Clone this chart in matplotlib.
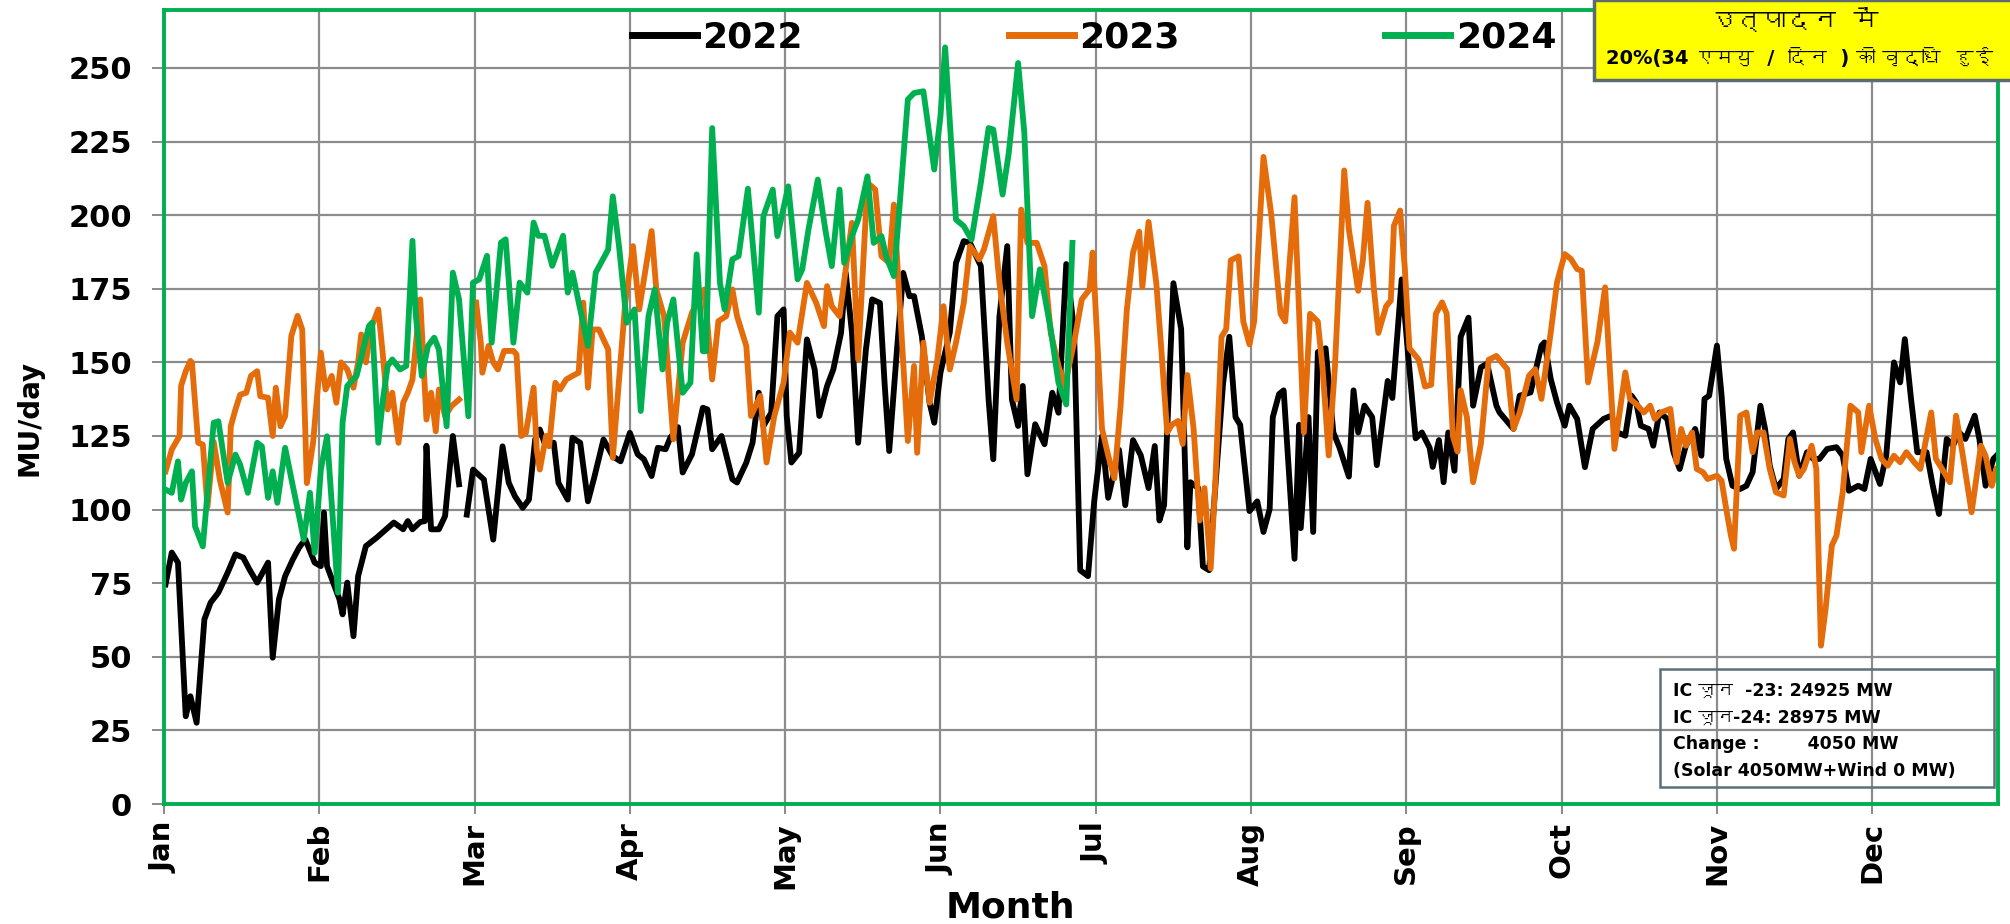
import numpy as np
import matplotlib
matplotlib.use("Agg")
import matplotlib.pyplot as plt
from matplotlib import font_manager, ft2font
from matplotlib.patches import Rectangle

# time in months since 1 Jan (0 = Jan, 1 = Feb, ...), values in MU/day
t_2022 = [0.01, 0.05, 0.09, 0.14, 0.17, 0.21, 0.26, 0.30, 0.35, 0.41, 0.46, 0.51, 0.55, 0.60,
          0.67, 0.70, 0.74, 0.78, 0.83, 0.87, 0.91, 0.97, 1.01, 1.03, 1.05, 1.13, 1.15, 1.18,
          1.22, 1.25, 1.30, 1.37, 1.43, 1.48, 1.54, 1.57, 1.60, 1.65, 1.68, 1.69, 1.72, 1.77,
          1.81, 1.86, 1.90, 1.92, 1.95, 1.99, 2.06, 2.12, 2.18, 2.22, 2.26, 2.31, 2.35, 2.39,
          2.42, 2.45, 2.51, 2.54, 2.60, 2.63, 2.68, 2.73, 2.77, 2.83, 2.89, 2.94, 3.00, 3.05,
          3.09, 3.14, 3.18, 3.23, 3.26, 3.31, 3.34, 3.40, 3.47, 3.50, 3.53, 3.59, 3.66, 3.69,
          3.75, 3.79, 3.83, 3.86, 3.91, 3.95, 3.99, 4.01, 4.04, 4.09, 4.14, 4.19, 4.22, 4.27,
          4.31, 4.36, 4.39, 4.43, 4.47, 4.52, 4.56, 4.61, 4.64, 4.67, 4.72, 4.76, 4.80, 4.83,
          4.88, 4.93, 4.96, 5.00, 5.06, 5.10, 5.15, 5.19, 5.26, 5.31, 5.34, 5.38, 5.43, 5.46,
          5.50, 5.53, 5.56, 5.61, 5.67, 5.72, 5.76, 5.81, 5.86, 5.90, 5.95, 5.99, 6.04, 6.08,
          6.15, 6.19, 6.24, 6.29, 6.34, 6.38, 6.41, 6.44, 6.50, 6.55, 6.59, 6.61, 6.66, 6.69,
          6.73, 6.82, 6.86, 6.90, 6.93, 6.99, 7.04, 7.08, 7.12, 7.14, 7.18, 7.21, 7.28, 7.31,
          7.32, 7.37, 7.40, 7.43, 7.48, 7.53, 7.57, 7.63, 7.66, 7.69, 7.73, 7.78, 7.81, 7.88,
          7.91, 7.97, 8.01, 8.06, 8.10, 8.15, 8.17, 8.21, 8.24, 8.27, 8.31, 8.35, 8.40, 8.43,
          8.48, 8.52, 8.58, 8.60, 8.69, 8.73, 8.80, 8.84, 8.87, 8.89, 8.93, 8.97, 9.02, 9.05,
          9.10, 9.15, 9.20, 9.27, 9.32, 9.36, 9.41, 9.45, 9.48, 9.51, 9.56, 9.59, 9.63, 9.68,
          9.72, 9.76, 9.80, 9.86, 9.90, 9.92, 9.95, 10.00, 10.03, 10.06, 10.10, 10.15, 10.19,
          10.23, 10.28, 10.31, 10.34, 10.38, 10.43, 10.46, 10.49, 10.53, 10.58, 10.62, 10.66,
          10.71, 10.77, 10.81, 10.85, 10.91, 10.95, 10.99, 11.05, 11.09, 11.14, 11.18, 11.21,
          11.25, 11.29, 11.35, 11.39, 11.43, 11.48, 11.52, 11.56, 11.60, 11.66, 11.69, 11.73,
          11.78, 11.80]
mu_2022 = [74.6, 85.4, 82, 29.8, 36.6, 27.6, 62.7, 68.4, 71.8, 78.6, 84.8, 83.7, 79.7, 75.2,
           82, 49.7, 69.5, 77.4, 83.1, 87.1, 89.9, 82, 80.8, 99, 80.8, 69.5, 64.4, 75.2,
           57, 77.4, 87.6, 90.5, 93.3, 95.6, 93.3, 96.1, 93.3, 95.8, 96.1, 121.7, 93.3, 93.3,
           97.8, 125, 108.6, np.nan, 98.3, 113.6, 110.2, 89.8, 121.5, 109.1, 104.5, 100.6, 103.4, 123.8,
           127.2, 122.7, 122.7, 109.1, 103.4, 124.4, 122.7, 102.8, 110.8, 123.8, 118.1, 116.4, 126.1, 118.8,
           117.1, 111.4, 121.0, 120.5, 124.4, 128, 112.6, 118.8, 134.6, 134.0, 120.5, 125.0, 110.3, 109.2,
           116.0, 122.7, 139.7, 128.4, 132.9, 165.7, 168.0, 131.8, 116.0, 119.3, 157.8, 147.6, 131.8, 142.0,
           147.6, 160.1, 180.4, 160.1, 122.7, 154.4, 171.4, 170.2, 143.1, 119.9, 154.4, 180.4, 172.5, 172.5,
           158.9, 136.3, 129.5, 146.5, 160.1, 183.8, 191.2, 190.6, 182.7, 137.4, 117.1, 165.7, 189.5, 137.4,
           128.4, 142.0, 112.0, 129.0, 122.2, 139.7, 132.9, 183.4, 161.3, 79.4, 77.4, 102.8, 124.9, 104,
           120.3, 101.5, 123.6, 118.4, 107.3, 121.6, 96.3, 101.5, 176.9, 161.3, 87.2, 109.3, 107.3, 80.7,
           79.4, 143, 158.7, 131.4, 128.8, 99.5, 102.8, 92.4, 100.2, 131.4, 139.2, 140.5, 83.3, 128.8,
           93.7, 131.4, 92.4, 153.5, 154.8, 126.2, 121, 111.2, 140.5, 126.2, 135.3, 131.4, 115.1, 143.7,
           137.9, 178.2, 153.5, 124.2, 126.2, 121, 114.5, 123.6, 109.3, 126.2, 113.2, 158.7, 165.2, 135.3,
           148.3, 149.6, 135.3, 133, 127.4, 138.7, 139.8, 148.9, 155.7, 156.8, 144.3, 136.4, 128.5, 135.3,
           130.8, 114.4, 127.4, 130.8, 131.9, 126.2, 125.1, 138.7, 136.4, 128.5, 127.4, 121.7, 133, 130.8,
           119.5, 113.8, 121.7, 127.4, 118.3, 137.6, 138.7, 155.7, 138.7, 117.2, 108.1, 107, 108.1,
           112.7, 135.3, 127.4, 115, 107, 110.4, 124, 126.2, 111.5, 119.5, 117.2, 117.2,
           120.6, 121.2, 118.3, 106.4, 108.1, 107, 117.2, 108.7, 118.3, 150, 143.2, 157.9,
           137.6, 119.5, 119.5, 108.1, 98.5, 124, 121.7, 126.2, 124, 131.9, 124, 108.1,
           117.2, 118.3]

t_2023 = [0.01, 0.05, 0.10, 0.11, 0.14, 0.17, 0.18, 0.22, 0.25, 0.28, 0.32, 0.36, 0.41, 0.43,
          0.46, 0.49, 0.53, 0.56, 0.60, 0.62, 0.67, 0.70, 0.72, 0.75, 0.78, 0.82, 0.86, 0.89,
          0.92, 0.96, 1.01, 1.04, 1.08, 1.11, 1.14, 1.18, 1.22, 1.25, 1.27, 1.30, 1.33, 1.38,
          1.41, 1.44, 1.47, 1.51, 1.54, 1.57, 1.60, 1.65, 1.69, 1.72, 1.75, 1.77, 1.81, 1.85,
          1.90, 1.95, 2.01, 2.04, 2.05, 2.09, 2.12, 2.15, 2.19, 2.25, 2.27, 2.30, 2.33, 2.38,
          2.40, 2.42, 2.46, 2.48, 2.52, 2.55, 2.59, 2.63, 2.67, 2.70, 2.73, 2.76, 2.80, 2.86,
          2.89, 2.97, 3.02, 3.06, 3.14, 3.17, 3.22, 3.28, 3.34, 3.40, 3.48, 3.53, 3.57, 3.62,
          3.66, 3.69, 3.75, 3.78, 3.84, 3.88, 3.93, 3.99, 4.03, 4.08, 4.14, 4.20, 4.25, 4.27,
          4.30, 4.35, 4.43, 4.47, 4.53, 4.58, 4.62, 4.67, 4.70, 4.74, 4.79, 4.83, 4.85, 4.89,
          4.93, 4.98, 5.02, 5.06, 5.10, 5.15, 5.19, 5.25, 5.28, 5.34, 5.38, 5.43, 5.49, 5.52,
          5.56, 5.62, 5.67, 5.71, 5.76, 5.80, 5.86, 5.91, 5.96, 5.98, 6.04, 6.08, 6.12, 6.16,
          6.20, 6.24, 6.28, 6.30, 6.34, 6.39, 6.42, 6.46, 6.49, 6.53, 6.56, 6.59, 6.63, 6.67,
          6.70, 6.74, 6.77, 6.81, 6.84, 6.87, 6.92, 6.95, 6.99, 7.02, 7.08, 7.13, 7.19, 7.22,
          7.28, 7.34, 7.38, 7.43, 7.46, 7.50, 7.54, 7.60, 7.63, 7.69, 7.72, 7.75, 7.79, 7.82,
          7.87, 7.90, 7.92, 7.96, 7.99, 8.02, 8.08, 8.12, 8.16, 8.19, 8.23, 8.26, 8.30, 8.33,
          8.35, 8.39, 8.43, 8.48, 8.53, 8.58, 8.65, 8.69, 8.73, 8.79, 8.83, 8.87, 8.93, 8.97,
          9.02, 9.06, 9.10, 9.13, 9.17, 9.23, 9.28, 9.34, 9.41, 9.44, 9.48, 9.53, 9.57, 9.60,
          9.64, 9.70, 9.74, 9.77, 9.80, 9.84, 9.87, 9.91, 9.94, 10.00, 10.03, 10.06, 10.09,
          10.11, 10.15, 10.19, 10.23, 10.26, 10.30, 10.34, 10.38, 10.43, 10.47, 10.50, 10.53,
          10.56, 10.61, 10.64, 10.67, 10.70, 10.74, 10.77, 10.81, 10.86, 10.91, 10.93, 10.98,
          11.02, 11.06, 11.10, 11.14, 11.18, 11.22, 11.27, 11.31, 11.38, 11.41, 11.45, 11.50,
          11.54, 11.58, 11.64, 11.70, 11.73, 11.77, 11.80]
mu_2023 = [113, 120.4, 125, 142, 147, 150.5, 149.9, 122.7, 122.1, 101, 123, 110, 99, 128.3,
           134, 139, 139.7, 145.4, 147, 138.5, 138, 125, 141.4, 128.3, 131.7, 159, 165.8, 161.2,
           109, 122.7, 153.3, 140.8, 145.4, 136.3, 150, 147.6, 141.4, 150, 159.5, 150, 161.2, 168,
           152.2, 134, 139.7, 122.7, 136.3, 139.7, 144.2, 171.4, 130.6, 139.7, 126.6, 140.8, 131.7, 135.1,
           137.4, np.nan, 170.3, 156.7, 146.5, 155.6, 150, 147.6, 153.9, 153.9, 152.7, 125, 126, 141.4,
           120.4, 113.6, 125, 121.5, 143.1, 140.8, 144.2, 145.4, 146.5, 170.3, 141.4, 161.2, 161.2, 154.4,
           117.6, 170.2, 189.5, 168, 194.6, 174.8, 165.7, 123.9, 156.7, 166.9, 174.8, 144.2, 164, 165.7,
           174.8, 165.7, 155.5, 131.8, 138.6, 116, 131.8, 143.1, 160.1, 156.7, 177.0, 170.2, 162.3, 175.9,
           169.1, 165.7, 197.4, 151, 211, 208.7, 186.1, 183.8, 203.6, 168, 123.3, 148.8, 119.3, 156.7,
           136.3, 151, 169.1, 147.6, 156.7, 170.2, 189.5, 185, 188.4, 199.7, 177, 156.7, 137.4, 201.9,
           190.6, 190.6, 182.7, 160.1, 148.8, 142, 156.7, 171.4, 174.8, 187.3, 127.5, 118.4, 110.6, 135.3,
           167.8, 187.3, 194.4, 175.6, 197.7, 176.9, 156.1, 126.2, 128.8, 130.1, 122.3, 145.7, 127.5, 96.3,
           107.3, 80.0, 109.3, 158.7, 161.3, 184.7, 186, 163.9, 156.1, 163.9, 219.8, 200.3, 166.5, 163.9,
           206.1, 126.2, 166.5, 163.9, 148.3, 118.4, 148.3, 215.2, 195.1, 174.3, 184.7, 204.2, 175.6, 160,
           169.1, 171, 196.4, 201.6, 182.1, 154.8, 150.9, 141.8, 142.4, 166.5, 170.4, 166.5, 124.9, 119.7,
           140.5, 131.4, 109.3, 122.3, 150.9, 152.2, 147.7, 127.4, 133, 145.5, 147.7, 137.6, 160.2, 177.1,
           186.8, 185.1, 181.7, 181.1, 143.2, 156.8, 175.5, 120.6, 146.6, 137.6, 135.9, 133, 135.3, 130.8,
           133, 134.2, 116.1, 127.4, 121.7, 126.2, 113.8, 112.7, 110.4, 111.5, 109.8, 100.2, 91.2,
           86.7, 131.9, 133, 119.5, 126.2, 126.2, 113.8, 105.9, 104.8, 124, 116.1, 111.5,
           113.8, 121.7, 113.8, 53.8, 66.3, 87.8, 91.2, 105.9, 135.3, 133, 119.5, 135.3,
           124, 117.2, 114.9, 118.3, 116.1, 119.5, 116.1, 113.8, 133, 117.2, 113.8, 109.3,
           131.9, 119.5, 99.1, 121.7, 118.3, 108.1, 113.8]

t_2024 = [0.01, 0.05, 0.09, 0.11, 0.14, 0.18, 0.20, 0.25, 0.32, 0.35, 0.41, 0.46, 0.49, 0.54,
          0.60, 0.63, 0.67, 0.70, 0.73, 0.78, 0.83, 0.87, 0.90, 0.94, 0.97, 1.01, 1.05, 1.12,
          1.15, 1.18, 1.24, 1.32, 1.34, 1.38, 1.41, 1.44, 1.47, 1.52, 1.56, 1.60, 1.62, 1.66,
          1.70, 1.74, 1.77, 1.82, 1.86, 1.90, 1.96, 1.99, 2.03, 2.08, 2.11, 2.17, 2.20, 2.25,
          2.29, 2.34, 2.38, 2.41, 2.45, 2.50, 2.57, 2.60, 2.63, 2.68, 2.73, 2.78, 2.86, 2.89,
          2.93, 2.98, 3.03, 3.07, 3.12, 3.16, 3.21, 3.24, 3.28, 3.34, 3.39, 3.43, 3.47, 3.49,
          3.53, 3.58, 3.61, 3.66, 3.70, 3.76, 3.83, 3.86, 3.92, 3.95, 4.02, 4.08, 4.11, 4.15,
          4.21, 4.26, 4.30, 4.35, 4.38, 4.43, 4.47, 4.53, 4.57, 4.62, 4.65, 4.70, 4.74, 4.79,
          4.83, 4.89, 4.96, 5.00, 5.03, 5.10, 5.15, 5.20, 5.26, 5.31, 5.34, 5.40, 5.44, 5.50,
          5.54, 5.59, 5.64, 5.71, 5.76, 5.81, 5.85]
mu_2024 = [106.8, 105.7, 116.4, 103.4, 109.1, 113, 94.3, 87.5, 129.5, 130, 109.1, 118.7, 115.3, 105.7,
           122.7, 121.5, 104, 113, 102.3, 121, 107.9, 97.7, 89.8, 105.7, 85.3, 113.6, 124.9, 71.8,
           129.6, 142, 145.4, 162.4, 163.5, 122.7, 137.4, 148.8, 151, 147.6, 148.8, 191.3, 166.9, 145.4,
           155.6, 158.4, 154.4, 128.3, 180.5, 171.4, 131.7, 177.1, 178.2, 186.2, 156.7, 190.7, 191.8, 156.7,
           177.1, 173.7, 197.5, 193, 193, 182.8, 193, 173.7, 180.5, 168, 155.6, 180.5, 188.3, 206.4,
           189.5, 163.5, 168, 133.5, 165.7, 174.8, 147.6, 163.5, 171.4, 139.7, 143.1, 186.7, 153.8, 153.8,
           229.6, 177.0, 168, 185, 186.1, 209, 166.9, 199.7, 208.7, 192.9, 209.8, 178.2, 181.6, 195.1,
           212.1, 194.6, 182.7, 208.7, 183.8, 192.9, 198.5, 213.2, 190.6, 192.9, 186.1, 179.3, 205.3, 239.3,
           241.5, 242.1, 215.5, 233.6, 257, 198.5, 196.3, 191.7, 211, 229.6, 229.1, 207.0, 221.2, 251.7,
           228, 165.7, 181.6, 161.2, 143.1, 135.7, 190.6]

months = ["Jan", "Feb", "Mar", "Apr", "May", "Jun", "Jul", "Aug", "Sep", "Oct", "Nov", "Dec"]
y_ticks = list(range(0, 251, 25))

headline = ["उत्पादन  में", "20%(34 एमयु  /  दिन  ) की वृद्धि  हुई"]
ic_notes = ["IC जून  -23: 24925 MW", "IC जून-24: 28975 MW",
            "Change :        4050 MW", "(Solar 4050MW+Wind 0 MW)"]


def find_devanagari_font():
    # matplotlib falls back only inside a family list, so look for any font with Devanagari
    for f in font_manager.fontManager.ttflist:
        try:
            cmap = ft2font.FT2Font(f.fname).get_charmap()
        except Exception:
            continue
        if 0x0924 in cmap and 0x0928 in cmap:
            return f.name
    return None


deva = find_devanagari_font()
mixed_family = ["DejaVu Sans"] + ([deva] if deva else [])

W, H = 2010, 924
fig = plt.figure(figsize=(W / 100, H / 100), dpi=100)
ax = fig.add_axes([164 / W, 1 - 804 / H, (1998 - 164) / W, (804 - 10) / H])

ax.plot(t_2022, mu_2022, color="black", lw=4.2, label="2022", solid_joinstyle="round")
ax.plot(t_2023, mu_2023, color="#e46c0a", lw=4.2, label="2023", solid_joinstyle="round")
ax.plot(t_2024, mu_2024, color="#00b050", lw=4.2, label="2024", solid_joinstyle="round")

ax.set_xlim(0, 11.81)
ax.set_ylim(0, 269.7)
ax.set_xticks(range(len(months)))
ax.set_xticklabels(months, rotation=90, fontsize=21, fontweight="bold")
ax.set_yticks(y_ticks)
ax.set_yticklabels([str(v) for v in y_ticks], fontsize=22, fontweight="bold")
ax.tick_params(axis="y", length=9, width=1.3, color="#808080", pad=14)
ax.tick_params(axis="x", length=7, width=1.3, color="#808080", pad=6)
ax.grid(True, color="#8c8c8c", lw=1.6)
ax.set_axisbelow(True)
for s in ax.spines.values():
    s.set_color("#00b050")
    s.set_linewidth(2.8)

fig.text(29 / W, 1 - 418 / H, "MU/day", rotation=90, ha="center", va="center",
         fontsize=20, fontweight="bold")
fig.text(1010 / W, 1 - 907 / H, "Month", ha="center", va="center",
         fontsize=26, fontweight="bold")

leg = ax.legend(loc="center", bbox_to_anchor=((1094 - 164) / 1834, (804 - 38) / 794),
                ncol=3, frameon=False, prop={"size": 26, "weight": "bold"},
                handlelength=1.8, handletextpad=0.15, columnspacing=5.7)
for line in leg.get_lines():
    line.set_linewidth(5)

# yellow note box, running off the right edge
box = Rectangle((1594 / W, 1 - 80 / H), (W - 1594 + 20) / W, 80 / H, transform=fig.transFigure,
                facecolor="#ffff00", edgecolor="#5b6b73", lw=2.5, zorder=5)
fig.add_artist(box)
fig.text(1795 / W, 1 - 22 / H, headline[0], ha="center", va="center", fontsize=18,
         fontweight="bold", family=mixed_family, zorder=6)
fig.text(1606 / W, 1 - 58 / H, headline[1], ha="left", va="center", fontsize=14,
         fontweight="bold", family=mixed_family, zorder=6)

# capacity note box
note = Rectangle((1660 / W, 1 - 787 / H), 334 / W, 118 / H, transform=fig.transFigure,
                 facecolor="none", edgecolor="#5b7079", lw=1.8, zorder=5)
fig.add_artist(note)
for i, txt in enumerate(ic_notes):
    fig.text(1673 / W, 1 - (691 + i * 26.5) / H, txt, ha="left", va="center", fontsize=12.5,
             fontweight="bold", family=mixed_family, zorder=6)

fig.savefig("out.png", dpi=100)
